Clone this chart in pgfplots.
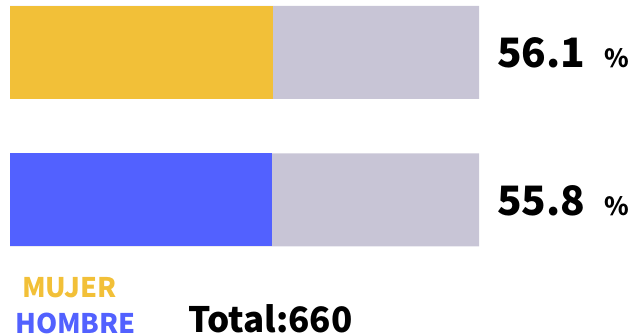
\documentclass[border=0pt]{standalone}
\usepackage{pgfplots}
\pgfplotsset{compat=1.18}
\usepackage{fontspec}
\setmainfont{Noto Sans CJK SC}
\definecolor{cyel}{RGB}{242,192,56}
\definecolor{cblue}{RGB}{82,97,255}
\definecolor{cgray}{RGB}{200,197,214}
\begin{document}
\begin{tikzpicture}[x=1pt,y=1pt]
\begin{axis}[
  at={(10pt,0pt)}, anchor=south west,
  scale only axis, width=469pt, height=336pt,
  xmin=0, xmax=100, ymin=0, ymax=336,
  axis lines=none, clip=false,
  xbar, bar shift=0pt, bar width=93pt,
]
\addplot[fill=cgray, draw=none] coordinates {(100,283.5) (100,136)};
\addplot[fill=cyel, draw=none] coordinates {(56.1,283.5)};
\addplot[fill=cblue, draw=none] coordinates {(55.8,136)};
\end{axis}
\node[anchor=base west, inner sep=0pt, font=\fontsize{40.5}{40}\selectfont\bfseries] at (497pt,268pt) {56.1};
\node[anchor=base west, inner sep=0pt, font=\fontsize{25}{26}\selectfont\bfseries] at (604pt,268pt) {\%};
\node[anchor=base west, inner sep=0pt, font=\fontsize{40.5}{40}\selectfont\bfseries] at (497pt,120pt) {55.8};
\node[anchor=base west, inner sep=0pt, font=\fontsize{25}{26}\selectfont\bfseries] at (604pt,120pt) {\%};
\node[anchor=base west, inner sep=0pt, text=cyel, font=\fontsize{27}{27}\selectfont\bfseries] at (22pt,38pt) {MUJER};
\node[anchor=base west, inner sep=0pt, text=cblue, font=\fontsize{27}{28}\selectfont\bfseries] at (15pt,2.5pt) {HOMBRE};
\node[anchor=base west, inner sep=0pt, font=\fontsize{35}{36}\selectfont\bfseries] at (188pt,3.5pt) {Total:660};
\pgfresetboundingbox
\useasboundingbox (0,0) rectangle (635pt,336pt);
\end{tikzpicture}
\end{document}
